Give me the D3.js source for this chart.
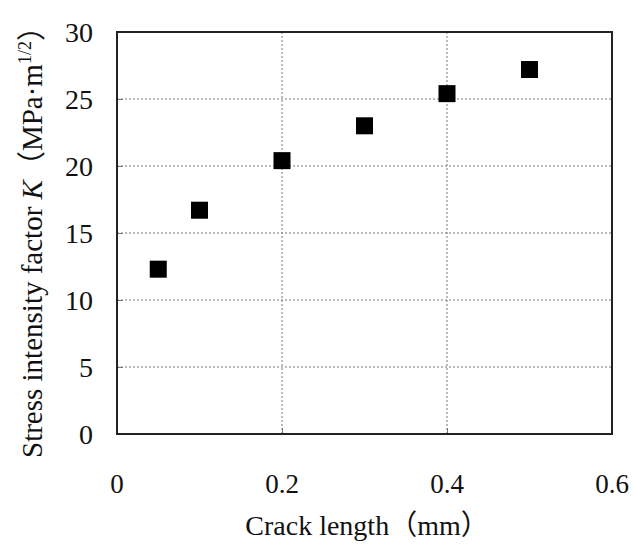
<!DOCTYPE html>
<html>
<head>
<meta charset="utf-8">
<script src="https://cdn.jsdelivr.net/npm/d3@7"></script>
<style>
  body { margin: 0; background: #fff; overflow: hidden; }
  svg { display: block; }
  text { font-family: "Liberation Serif", "Times New Roman", "Noto Sans CJK JP", serif; fill: #111; white-space: pre; }
</style>
</head>
<body>
<svg id="chart"></svg>
<script>
"use strict";

// /////// DATA
const crackLength = [0.05, 0.1, 0.2, 0.3, 0.4, 0.5];
const stressK = [12.3, 16.7, 20.4, 23.0, 25.4, 27.2];
const xTicks = [0, 0.2, 0.4, 0.6];
const yTicks = [0, 5, 10, 15, 20, 25, 30];

const width = 633;
const height = 545;
const margin = { top: 32, left: 117, right: 21, bottom: 111 };

const svg = d3.select("#chart").attr("width", width).attr("height", height);

// Scales in page coordinates, so every label sits at a positive position
const x = d3.scaleLinear().domain([0, 0.6]).range([margin.left, width - margin.right]);
const y = d3.scaleLinear().domain([0, 30]).range([height - margin.bottom, margin.top]);
const [x0, x1] = x.range();
const [y0, y1] = y.range();

// Grid lines (dotted)
svg.selectAll(".hgrid")
  .data(yTicks.filter((d) => d > 0 && d < 30))
  .join("line")
  .attr("x1", x0).attr("x2", x1)
  .attr("y1", (d) => y(d)).attr("y2", (d) => y(d))
  .attr("stroke", "#777").attr("stroke-width", 1).attr("stroke-dasharray", "2,2");

svg.selectAll(".vgrid")
  .data(xTicks.filter((d) => d > 0 && d < 0.6))
  .join("line")
  .attr("x1", (d) => x(d)).attr("x2", (d) => x(d))
  .attr("y1", y1).attr("y2", y0)
  .attr("stroke", "#777").attr("stroke-width", 1).attr("stroke-dasharray", "2,2");

// Inner tick marks
svg.append("g")
  .attr("transform", `translate(${x0}, 0)`)
  .call(d3.axisLeft(y).tickValues(yTicks).tickSize(-6).tickFormat(""))
  .call((a) => a.select(".domain").remove())
  .call((a) => a.selectAll("line").attr("stroke", "#777"));

svg.append("g")
  .attr("transform", `translate(0, ${y0})`)
  .call(d3.axisBottom(x).tickValues(xTicks).tickSize(-6).tickFormat(""))
  .call((a) => a.select(".domain").remove())
  .call((a) => a.selectAll("line").attr("stroke", "#777"));

// Frame
svg.append("rect")
  .attr("x", x0).attr("y", y1)
  .attr("width", x1 - x0).attr("height", y0 - y1)
  .attr("fill", "none").attr("stroke", "#222").attr("stroke-width", 2);

// Tick labels
svg.selectAll(".ylab")
  .data(yTicks)
  .join("text")
  .attr("x", x0 - 24).attr("y", (d) => y(d)).attr("dy", "0.35em")
  .attr("text-anchor", "end").style("font-size", "28px")
  .text((d) => d);

svg.selectAll(".xlab")
  .data(xTicks)
  .join("text")
  .attr("x", (d) => x(d)).attr("y", y0 + 50).attr("dy", "0.35em")
  .attr("text-anchor", "middle").style("font-size", "27px")
  .text((d) => d);

// Points
const size = 17;
svg.selectAll(".pt")
  .data(crackLength)
  .join("rect")
  .attr("x", (d) => x(d) - size / 2)
  .attr("y", (d, i) => y(stressK[i]) - size / 2)
  .attr("width", size).attr("height", size)
  .attr("fill", "#000");

// Axis titles
svg.append("text")
  .attr("x", 367).attr("y", 535)
  .attr("text-anchor", "middle").style("font-size", "28px")
  .text("Crack length（mm）");

// Y title built from separate pieces (italic K, superscript 1/2),
// laid out along x then rotated about (235, 235) so the baseline lands at x = 42
const yParts = [
  { t: "Stress intensity factor ", size: 29, dy: 0 },
  { t: "K", size: 29, dy: 0, italic: true },
  { t: "（MPa·m", size: 29, dy: 0 },
  { t: "1/2", size: 18, dy: -11 },
  { t: "）", size: 29, dy: 0 },
];
const yTitle = svg.append("g").attr("transform", "rotate(-90, 235, 235)");
const pieces = yParts.map((p) =>
  yTitle.append("text")
    .attr("y", 42 + p.dy)
    .style("font-size", `${p.size}px`)
    .style("font-style", p.italic ? "italic" : "normal")
    .text(p.t)
);
const lens = pieces.map((s) => s.node().getComputedTextLength());
const total = d3.sum(lens);
let pos = 235 - total / 2;
pieces.forEach((s, i) => {
  s.attr("x", pos);
  pos += lens[i];
});
</script>
</body>
</html>
